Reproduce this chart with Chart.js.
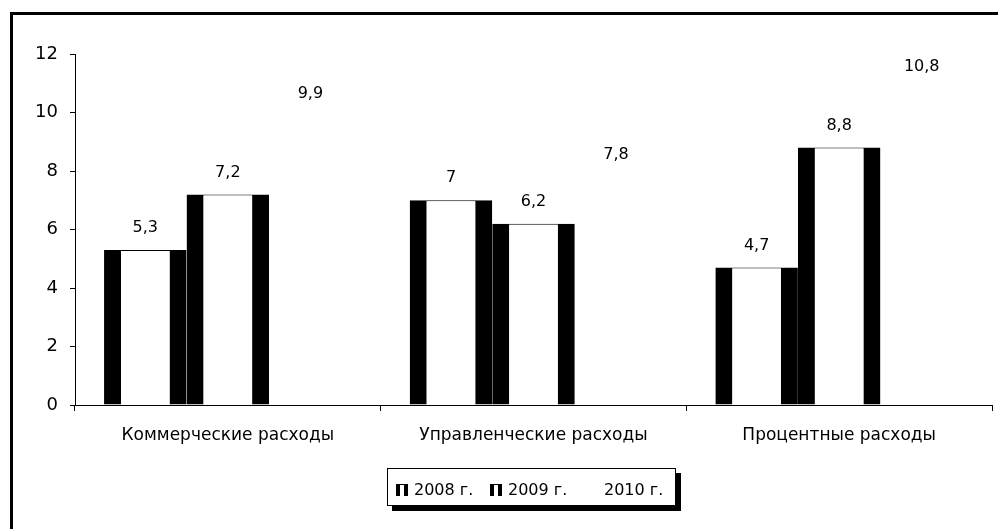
<!DOCTYPE html>
<html>
<head>
<meta charset="utf-8">
<script src="https://cdn.jsdelivr.net/npm/chart.js@4"></script>
<style>
  body { margin: 0; background: #fff; overflow: hidden; }
  #wrap { position: relative; width: 998px; height: 529px; }
  #frame { position: absolute; left: 10px; top: 12px; width: 1000px; height: 600px; border: 3px solid #000; }
  canvas { position: absolute; left: 0; top: 0; }
  #legend {
    position: absolute; left: 387px; top: 468px; width: 289px; height: 38px;
    border: 1px solid #000; background: #fff; box-shadow: 5px 5px 0 #000;
    font: 16px "DejaVu Sans", sans-serif; color: #000;
    box-sizing: border-box;
  }
  .item { position: absolute; top: 11px; }
  .ico { display: inline-block; width: 4px; height: 11px; background: #fff;
         border-left: 4px solid #000; border-right: 4px solid #000; border-top: 1px solid #000;
         vertical-align: -1px; margin-right: 6px; }
</style>
</head>
<body>
<div id="wrap">
  <div id="frame"></div>
  <canvas id="chart" width="998" height="529"></canvas>
  <div id="legend"></div>
</div>
<script>
const categories = ['Коммерческие расходы', 'Управленческие расходы', 'Процентные расходы'];
const seriesNames = ['2008 г.', '2009 г.', '2010 г.'];
const v2008 = [5.3, 7, 4.7];
const v2009 = [7.2, 6.2, 8.8];
const v2010 = [9.9, 7.8, 10.8];

const FONT = '"DejaVu Sans", sans-serif';

function fmt(v) {
  return String(v).replace('.', ',');
}

const valueLabels = {
  id: 'valueLabels',
  afterDatasetsDraw(chart) {
    const ctx = chart.ctx;
    ctx.save();
    ctx.font = '16px ' + FONT;
    ctx.fillStyle = '#000';
    ctx.textAlign = 'center';
    ctx.textBaseline = 'middle';
    chart.data.datasets.forEach((ds, i) => {
      chart.getDatasetMeta(i).data.forEach((bar, j) => {
        ctx.fillText(fmt(ds.data[j]), bar.x, bar.y - 22);
      });
    });
    ctx.restore();
  }
};

const barStyle = {
  backgroundColor: '#fff',
  borderColor: '#000',
  borderWidth: { left: 17, right: 17, top: 1, bottom: 0 },
  borderSkipped: false
};

new Chart(document.getElementById('chart'), {
  type: 'bar',
  data: {
    labels: categories,
    datasets: [
      Object.assign({ label: seriesNames[0], data: v2008 }, barStyle),
      Object.assign({ label: seriesNames[1], data: v2009 }, barStyle),
      { label: seriesNames[2], data: v2010, backgroundColor: 'rgba(0,0,0,0)', borderWidth: 0 }
    ]
  },
  options: {
    responsive: false,
    animation: false,
    layout: { padding: { top: 54, right: 6, bottom: 0, left: 0 } },
    datasets: { bar: { categoryPercentage: 0.81, barPercentage: 1 } },
    plugins: { legend: { display: false }, tooltip: { enabled: false } },
    scales: {
      x: {
        grid: { display: true, drawOnChartArea: false, drawTicks: true, tickLength: 6, color: '#000', offset: true },
        border: { display: true, color: '#000', width: 1 },
        ticks: { color: '#000', font: { family: FONT, size: 17 }, padding: 14, maxRotation: 0 },
        afterFit(scale) { scale.height = 124; }
      },
      y: {
        min: 0, max: 12,
        grid: { display: true, drawOnChartArea: false, drawTicks: true, tickLength: 5, color: '#000' },
        border: { display: true, color: '#000', width: 1 },
        ticks: { stepSize: 2, color: '#000', font: { family: FONT, size: 18 }, padding: 12 },
        afterFit(scale) { scale.width = 75; }
      }
    }
  },
  plugins: [valueLabels]
});

// legend
const legend = document.getElementById('legend');
const itemLeft = [8, 102, 216];
seriesNames.forEach((name, i) => {
  const s = document.createElement('span');
  s.className = 'item';
  s.style.left = itemLeft[i] + 'px';
  if (i < 2) {
    const ic = document.createElement('span');
    ic.className = 'ico';
    s.appendChild(ic);
  }
  s.appendChild(document.createTextNode(name));
  legend.appendChild(s);
});
</script>
</body>
</html>
